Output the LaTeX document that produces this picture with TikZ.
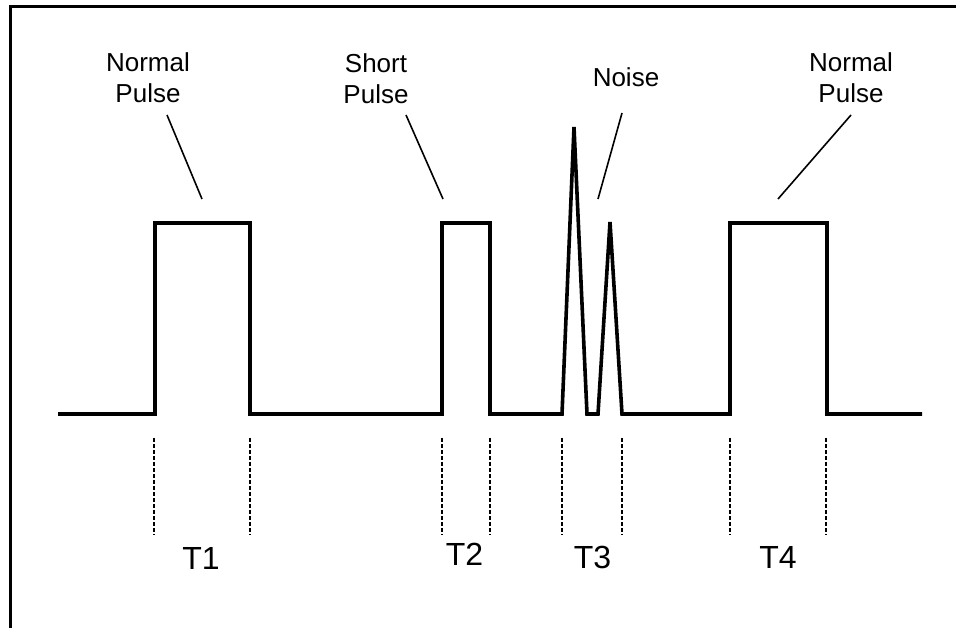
\documentclass[tikz,border=0pt]{standalone}
\usepackage{fontspec}
\setmainfont{Liberation Sans}
\begin{document}
\begin{tikzpicture}[x=1pt,y=-1pt,
  frame/.style={line width=3pt},
  wave/.style={line width=3.6pt},
  leader/.style={line width=1.6pt},
  marker/.style={line width=2.4pt,dash pattern=on 4pt off 2pt},
  lbl/.style={inner sep=0pt,anchor=north,align=center,font=\fontsize{26}{31}\selectfont},
  tlbl/.style={inner sep=0pt,anchor=base,font=\fontsize{32}{36}\selectfont}]
\useasboundingbox (0,0) rectangle (956,628);
% frame
\draw[frame] (10,628) -- (10,7) -- (956,7);
% waveform
\draw[wave] (58,414) -- (155,414) -- (155,223) -- (250,223) -- (250,414)
  -- (442,414) -- (442,223) -- (490,223) -- (490,414)
  -- (562,414) -- (574,127) -- (587,414) -- (598,414) -- (610,222) -- (622,414)
  -- (730,414) -- (730,223) -- (827,223) -- (827,414) -- (922,414);
% labels
\node[lbl] (np1) at (148,52) {Normal\\Pulse};
\node[lbl] (sp) at (376,53) {Short\\Pulse};
\node[lbl] (ns) at (626,67) {Noise};
\node[lbl] (np4) at (851,52) {Normal\\Pulse};
% leader lines
\coordinate (np1a) at (167,115); \coordinate (np1b) at (202,199);
\coordinate (spa) at (406,115);  \coordinate (spb) at (443,199);
\coordinate (nsa) at (622,113);  \coordinate (nsb) at (598,199);
\coordinate (np4a) at (851,115); \coordinate (np4b) at (778,199);
\draw[leader] (np1a) -- (np1b);
\draw[leader] (spa) -- (spb);
\draw[leader] (nsa) -- (nsb);
\draw[leader] (np4a) -- (np4b);
% dashed markers
\foreach \x/\n in {154/a,250/b,442/c,490/d,562/e,622/f,730/g,826/h}{
  \coordinate (m\n t) at (\x,438);
  \coordinate (m\n b) at (\x,535);
  \draw[marker] (m\n t) -- (m\n b);
}
% interval labels
\node[tlbl] (t1) at (201,569) {T1};
\node[tlbl] (t2) at (464.5,565) {T2};
\node[tlbl] (t3) at (592.5,568) {T3};
\node[tlbl] (t4) at (778,568) {T4};
\end{tikzpicture}
\end{document}
